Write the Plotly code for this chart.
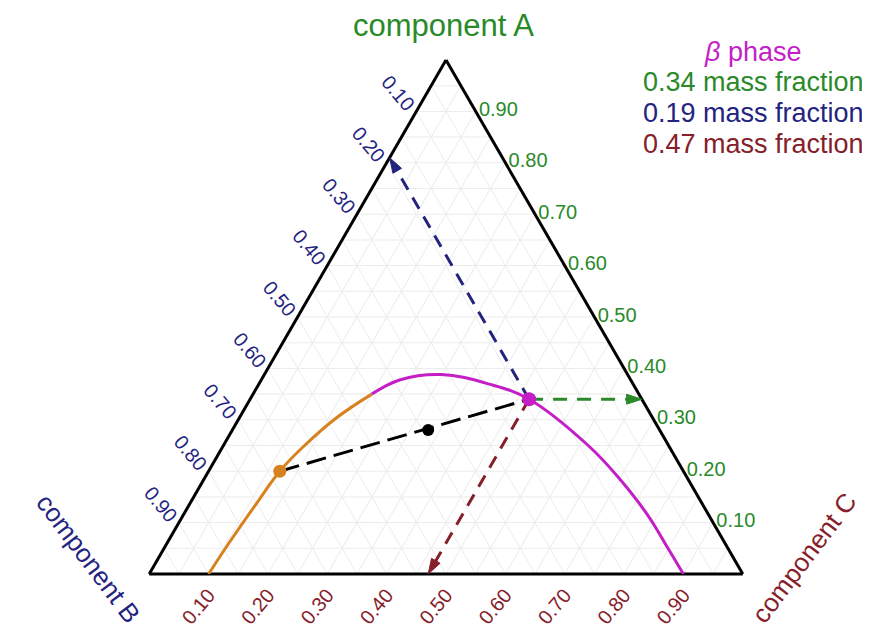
import plotly.graph_objects as go

# ---------------- data (mass fractions of components A, B, C) ----------------
# alpha-rich branch of the binodal curve (orange)
alpha_branch_A = [0.00, 0.069, 0.136, 0.20, 0.248, 0.303, 0.35]
alpha_branch_B = [0.90, 0.826, 0.752, 0.68, 0.616, 0.534, 0.45]
alpha_branch_C = [0.10, 0.105, 0.112, 0.12, 0.136, 0.163, 0.20]

# beta-rich branch of the binodal curve (magenta)
beta_branch_A = [0.35, 0.378, 0.388, 0.370, 0.34, 0.249, 0.189, 0.115, 0.050, 0.00]
beta_branch_B = [0.45, 0.388, 0.314, 0.244, 0.19, 0.135, 0.116, 0.103, 0.101, 0.10]
beta_branch_C = [0.20, 0.234, 0.298, 0.386, 0.47, 0.616, 0.695, 0.782, 0.849, 0.90]

# tie-line end points and overall composition
alpha_point = {"A": 0.20, "B": 0.68, "C": 0.12}
beta_point = {"A": 0.34, "B": 0.19, "C": 0.47}
overall_point = {"A": 0.28, "B": 0.39, "C": 0.33}

# read-out arrows (end points on the triangle edges)
arrow_A_end = {"A": 0.34, "B": 0.00, "C": 0.66}   # green, reads A
arrow_B_end = {"A": 0.81, "B": 0.19, "C": 0.00}   # blue, reads B
arrow_C_end = {"A": 0.00, "B": 0.53, "C": 0.47}   # dark red, reads C

# edge tick values / labels
edge_ticks = [0.10, 0.20, 0.30, 0.40, 0.50, 0.60, 0.70, 0.80, 0.90]
edge_tick_labels = ["0.10", "0.20", "0.30", "0.40", "0.50", "0.60", "0.70", "0.80", "0.90"]
grid_values = [0.05, 0.10, 0.15, 0.20, 0.25, 0.30, 0.35, 0.40, 0.45, 0.50,
               0.55, 0.60, 0.65, 0.70, 0.75, 0.80, 0.85, 0.90, 0.95]

component_names = ["component A", "component B", "component C"]
phase_title = "β phase"

# ---------------- styles ----------------
ORANGE = "#d8821f"
MAGENTA = "#c41fc6"
GREEN = "#2a8a2a"
NAVY = "#24247f"
DARKRED = "#85202a"
FONT = "Liberation Sans, Arial, sans-serif"


def labels_for(reversed_edge):
    lut = {round(v, 2): t for v, t in zip(edge_ticks, edge_tick_labels)}
    out = []
    for g in grid_values:
        key = round(1 - g, 2) if reversed_edge else round(g, 2)
        out.append(lut.get(key, ""))
    return out


fig = go.Figure()

# binodal curve
fig.add_trace(go.Scatterternary(
    a=alpha_branch_A, b=alpha_branch_B, c=alpha_branch_C, mode="lines",
    line=dict(color=ORANGE, width=3, shape="spline", smoothing=1.2), hoverinfo="skip"))
fig.add_trace(go.Scatterternary(
    a=beta_branch_A, b=beta_branch_B, c=beta_branch_C, mode="lines",
    line=dict(color=MAGENTA, width=3, shape="spline", smoothing=1.1), hoverinfo="skip"))


def arrow(end, color, dash):
    fig.add_trace(go.Scatterternary(
        a=[beta_point["A"], end["A"]], b=[beta_point["B"], end["B"]],
        c=[beta_point["C"], end["C"]], mode="lines+markers",
        line=dict(color=color, width=3, dash=dash),
        marker=dict(symbol=["circle", "arrow"], size=[0, 16], color=color, opacity=1,
                    angleref="previous", line=dict(width=1, color=color)),
        hoverinfo="skip"))


arrow(arrow_B_end, NAVY, "13px,9px")
arrow(arrow_A_end, GREEN, "14px,10px")
arrow(arrow_C_end, DARKRED, "13px,9px")

# tie line
fig.add_trace(go.Scatterternary(
    a=[alpha_point["A"], beta_point["A"]], b=[alpha_point["B"], beta_point["B"]],
    c=[alpha_point["C"], beta_point["C"]], mode="lines",
    line=dict(color="black", width=3, dash="20px,8px"), hoverinfo="skip"))

# points
fig.add_trace(go.Scatterternary(
    a=[alpha_point["A"]], b=[alpha_point["B"]], c=[alpha_point["C"]], mode="markers",
    marker=dict(color=ORANGE, size=13), hoverinfo="skip"))
fig.add_trace(go.Scatterternary(
    a=[overall_point["A"]], b=[overall_point["B"]], c=[overall_point["C"]], mode="markers",
    marker=dict(color="black", size=12), hoverinfo="skip"))
fig.add_trace(go.Scatterternary(
    a=[beta_point["A"]], b=[beta_point["B"]], c=[beta_point["C"]], mode="markers",
    marker=dict(color=MAGENTA, size=14), hoverinfo="skip"))

axis_common = dict(tickmode="array", tickvals=grid_values, ticks="",
                   showline=True, linecolor="black", linewidth=3,
                   showgrid=True, gridcolor="#ececec", gridwidth=1, layer="below traces",
                   title=dict(text=""))

fig.update_layout(
    width=870, height=635,
    margin=dict(l=0, r=0, t=0, b=0),
    paper_bgcolor="white",
    showlegend=False,
    font=dict(family=FONT),
    ternary=dict(
        sum=1,
        bgcolor="white",
        domain=dict(x=[141 / 870, 735 / 870], y=[(635 - 566) / 635, (635 - 52) / 635]),
        aaxis=dict(axis_common, ticktext=labels_for(True), tickangle=50,
                   tickfont=dict(color=NAVY, size=20, family=FONT)),
        baxis=dict(axis_common, ticktext=labels_for(True), tickangle=-50,
                   tickfont=dict(color=DARKRED, size=20, family=FONT)),
        caxis=dict(axis_common, ticktext=labels_for(True), tickangle=0,
                   tickfont=dict(color=GREEN, size=20, family=FONT)),
    ),
)

# vertex titles
fig.add_annotation(text=component_names[0], xref="paper", yref="paper",
                   x=436 / 870, y=1 - 18 / 635, showarrow=False,
                   xanchor="center", yanchor="middle",
                   font=dict(color=GREEN, size=31, family=FONT))
fig.add_annotation(text=component_names[1], xref="paper", yref="paper",
                   x=80 / 870, y=1 - 550 / 635, showarrow=False, textangle=53,
                   xanchor="center", yanchor="middle",
                   font=dict(color=NAVY, size=26, family=FONT))
fig.add_annotation(text=component_names[2], xref="paper", yref="paper",
                   x=796 / 870, y=1 - 550 / 635, showarrow=False, textangle=-53,
                   xanchor="center", yanchor="middle",
                   font=dict(color=DARKRED, size=26, family=FONT))

# phase composition read-out
legend_lines = [
    ("<i>β</i> phase", MAGENTA),
    (f"{beta_point['A']:.2f} mass fraction", GREEN),
    (f"{beta_point['B']:.2f} mass fraction", NAVY),
    (f"{beta_point['C']:.2f} mass fraction", DARKRED),
]
legend_y = [44, 74, 105, 136]
for (txt, col), yy in zip(legend_lines, legend_y):
    fig.add_annotation(text=txt, xref="paper", yref="paper", x=745 / 870, y=1 - yy / 635,
                       showarrow=False, xanchor="center", yanchor="middle",
                       font=dict(color=col, size=27, family=FONT))

fig.write_html("out.html")
